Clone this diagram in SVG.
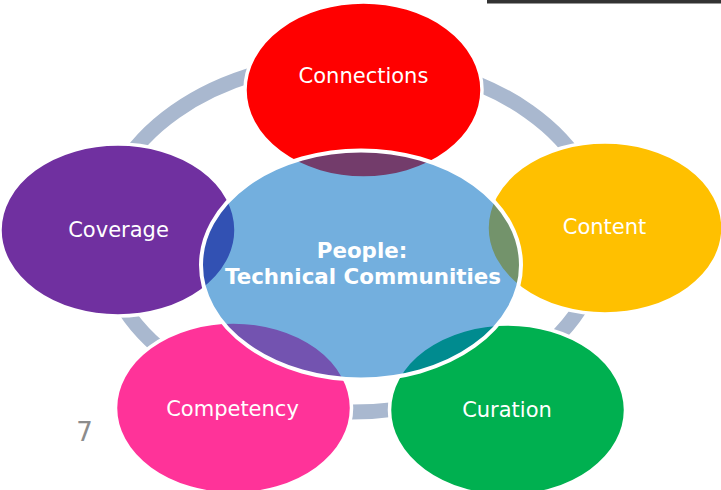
<svg xmlns="http://www.w3.org/2000/svg" width="721" height="490" viewBox="0 0 721 490">
<style>
.outer{stroke:#ffffff;stroke-width:3.5}
.lbl{font-family:"DejaVu Sans",Verdana,sans-serif;font-size:21px;fill:#ffffff;text-anchor:middle}
.ctr{font-family:"DejaVu Sans",Verdana,sans-serif;font-size:21.4px;font-weight:bold;fill:#ffffff;text-anchor:middle}
</style>
<rect width="721" height="490" fill="#ffffff"/>
<rect x="487" y="0" width="234" height="3.5" fill="#333333"/>
<g id="connectors">
<ellipse cx="352" cy="236" rx="250" ry="176" fill="none" stroke="#A9B8CF" stroke-width="15"/>
</g>
<g id="connections">
<ellipse class="outer" cx="363.5" cy="90" rx="118.5" ry="88" fill="#FF0000"/>
<text class="lbl" x="363.5" y="83">Connections</text>
</g>
<g id="content">
<ellipse class="outer" cx="605" cy="228" rx="118" ry="86" fill="#FFC000"/>
<text class="lbl" x="604.5" y="234">Content</text>
</g>
<g id="curation">
<ellipse class="outer" cx="507.5" cy="410" rx="118" ry="86" fill="#00B050"/>
<text class="lbl" x="507" y="417">Curation</text>
</g>
<g id="competency">
<ellipse class="outer" cx="233.5" cy="408" rx="118" ry="86" fill="#FF3399"/>
<text class="lbl" x="232.5" y="416">Competency</text>
</g>
<g id="coverage">
<ellipse class="outer" cx="118" cy="230" rx="118" ry="86" fill="#7030A0"/>
<text class="lbl" x="118.5" y="237">Coverage</text>
</g>
<g id="people">
<ellipse cx="361" cy="265" rx="160" ry="114.5" fill="#006DC2" fill-opacity="0.55" stroke="#ffffff" stroke-width="4"/>
<text class="ctr" x="362" y="258">People:</text>
<text class="ctr" x="363" y="283.5">Technical Communities</text>
</g>
<text x="84.5" y="441" font-family="DejaVu Sans, Verdana, sans-serif" font-size="26" fill="#8C8C8C" text-anchor="middle">7</text>
</svg>
